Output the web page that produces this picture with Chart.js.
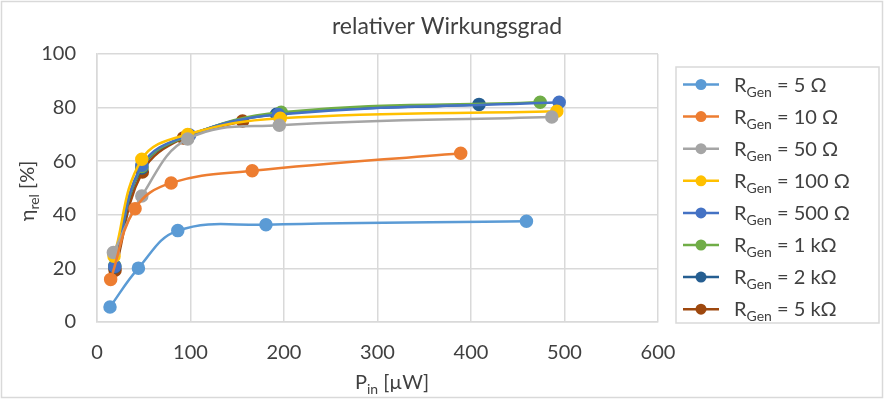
<!DOCTYPE html>
<html>
<head>
<meta charset="utf-8">
<script src="https://cdn.jsdelivr.net/npm/chart.js@4.4.1/dist/chart.umd.min.js"></script>
<style>
  html, body { margin: 0; padding: 0; background: #fff; }
  #wrap { position: relative; width: 884px; height: 399px; }
</style>
</head>
<body>
<div id="wrap"><canvas id="chart" width="884" height="399"></canvas></div>
<script>
// Messwerte: Eingangsleistung P_in [µW] und relativer Wirkungsgrad [%]
const r5_p    = [13.9, 44.3, 86.4, 180.7, 459.3];
const r5_eta  = [5.6, 20.1, 34.1, 36.3, 37.6];
const r10_p   = [14.6, 40.7, 79.3, 166, 389];
const r10_eta = [15.9, 42.3, 51.9, 56.4, 63.0];
const r50_p   = [17.5, 47.9, 97, 195, 486.4];
const r50_eta = [25.9, 47.0, 68.3, 73.4, 76.5];
const r100_p   = [18.2, 47.9, 97, 196, 491.8];
const r100_eta = [24.5, 60.7, 70.0, 76.0, 78.6];
const r500_p   = [19.0, 48.0, 99, 194, 494.3];
const r500_eta = [20.8, 58.5, 69.8, 77.4, 82.0];
const r1k_p   = [19.0, 48.0, 98, 197, 474];
const r1k_eta = [21.0, 58.0, 69.5, 78.3, 82.0];
const r2k_p   = [19.0, 48.0, 98, 192, 408.6];
const r2k_eta = [20.5, 57.5, 69.5, 77.5, 81.2];
const r5k_p   = [19.3, 48.5, 92.5, 155.7];
const r5k_eta = [19.3, 56.0, 68.7, 75.0];

const seriesNames = ["5 Ω", "10 Ω", "50 Ω", "100 Ω", "500 Ω", "1 kΩ", "2 kΩ", "5 kΩ"];
const seriesColors = ["#5B9BD5", "#ED7D31", "#A5A5A5", "#FFC000", "#4472C4", "#70AD47", "#255E91", "#9E480E"];
const seriesX = [r5_p, r10_p, r50_p, r100_p, r500_p, r1k_p, r2k_p, r5k_p];
const seriesY = [r5_eta, r10_eta, r50_eta, r100_eta, r500_eta, r1k_eta, r2k_eta, r5k_eta];

const xTicks = [0, 100, 200, 300, 400, 500, 600];
const yTicks = [0, 20, 40, 60, 80, 100];

const FONT = "Lato, 'Open Sans', sans-serif";
const TEXT = "#404040";

const datasets = seriesNames.map((name, i) => ({
  label: "RGen = " + name,
  data: seriesX[i].map((x, j) => ({ x: x, y: seriesY[i][j] })),
  borderColor: seriesColors[i],
  backgroundColor: seriesColors[i],
  borderWidth: 2.5,
  pointRadius: 5.5,
  pointHoverRadius: 5.5,
  showLine: true,
  tension: 0.4
}));

// Text mit tiefgestelltem Teil, z.B. R_Gen
function drawParts(ctx, parts, x, y, size, align) {
  const big = size + "px " + FONT;
  const small = Math.round(size * 0.68) + "px " + FONT;
  let w = 0;
  parts.forEach(p => { ctx.font = p.sub ? small : big; w += ctx.measureText(p.t).width; });
  let cx = align === "center" ? x - w / 2 : x;
  ctx.textBaseline = "alphabetic";
  ctx.textAlign = "left";
  parts.forEach(p => {
    ctx.font = p.sub ? small : big;
    ctx.fillText(p.t, cx, p.sub ? y + size * 0.25 : y);
    cx += ctx.measureText(p.t).width;
  });
}

const decor = {
  id: "decor",
  afterDraw(chart) {
    const ctx = chart.ctx;
    ctx.save();

    // Rahmen
    ctx.strokeStyle = "#D9D9D9";
    ctx.lineWidth = 1.5;
    ctx.strokeRect(1.5, 1.5, 881, 396);

    ctx.fillStyle = TEXT;
    // Titel
    ctx.font = "23px " + FONT;
    ctx.textAlign = "center";
    ctx.textBaseline = "middle";
    ctx.fillText("relativer Wirkungsgrad", 447, 27);

    // Achsentitel
    drawParts(ctx, [{ t: "P" }, { t: "in", sub: true }, { t: " [µW]" }], 392, 389, 20, "center");
    ctx.save();
    ctx.translate(34, 191);
    ctx.rotate(-Math.PI / 2);
    drawParts(ctx, [{ t: "η" }, { t: "rel", sub: true }, { t: " [%]" }], 0, 0, 20, "center");
    ctx.restore();

    // Legende
    ctx.strokeStyle = "#D9D9D9";
    ctx.lineWidth = 1.5;
    ctx.strokeRect(676, 67, 203, 256);
    seriesNames.forEach((name, i) => {
      const y = 84.5 + i * 32.1;
      ctx.strokeStyle = seriesColors[i];
      ctx.fillStyle = seriesColors[i];
      ctx.lineWidth = 2.5;
      ctx.beginPath();
      ctx.moveTo(683, y);
      ctx.lineTo(719, y);
      ctx.stroke();
      ctx.beginPath();
      ctx.arc(701, y, 5.5, 0, Math.PI * 2);
      ctx.fill();
      ctx.fillStyle = TEXT;
      drawParts(ctx, [{ t: "R" }, { t: "Gen", sub: true }, { t: " = " + name }], 734, y + 7, 20, "left");
    });
    ctx.restore();
  }
};

new Chart(document.getElementById("chart"), {
  type: "scatter",
  data: { datasets: datasets },
  options: {
    responsive: false,
    animation: false,
    events: [],
    layout: { padding: { left: 0, top: 54, right: 226, bottom: 0 } },
    plugins: { legend: { display: false }, title: { display: false }, tooltip: { enabled: false } },
    scales: {
      x: {
        type: "linear",
        min: 0, max: 600,
        afterBuildTicks: axis => { axis.ticks = xTicks.map(v => ({ value: v })); },
        afterFit: axis => { axis.height = 77; },
        grid: { color: "#D9D9D9", lineWidth: 1.5, drawTicks: false },
        border: { color: "#D9D9D9", width: 1.5 },
        ticks: { color: TEXT, font: { family: FONT, size: 20 }, padding: 19 }
      },
      y: {
        type: "linear",
        min: 0, max: 100,
        afterBuildTicks: axis => { axis.ticks = yTicks.map(v => ({ value: v })); },
        afterFit: axis => { axis.width = 97; },
        grid: { color: "#D9D9D9", lineWidth: 1.5, drawTicks: false },
        border: { color: "#D9D9D9", width: 1.5 },
        ticks: { color: TEXT, font: { family: FONT, size: 20 }, padding: 21 }
      }
    }
  },
  plugins: [decor]
});
</script>
</body>
</html>
